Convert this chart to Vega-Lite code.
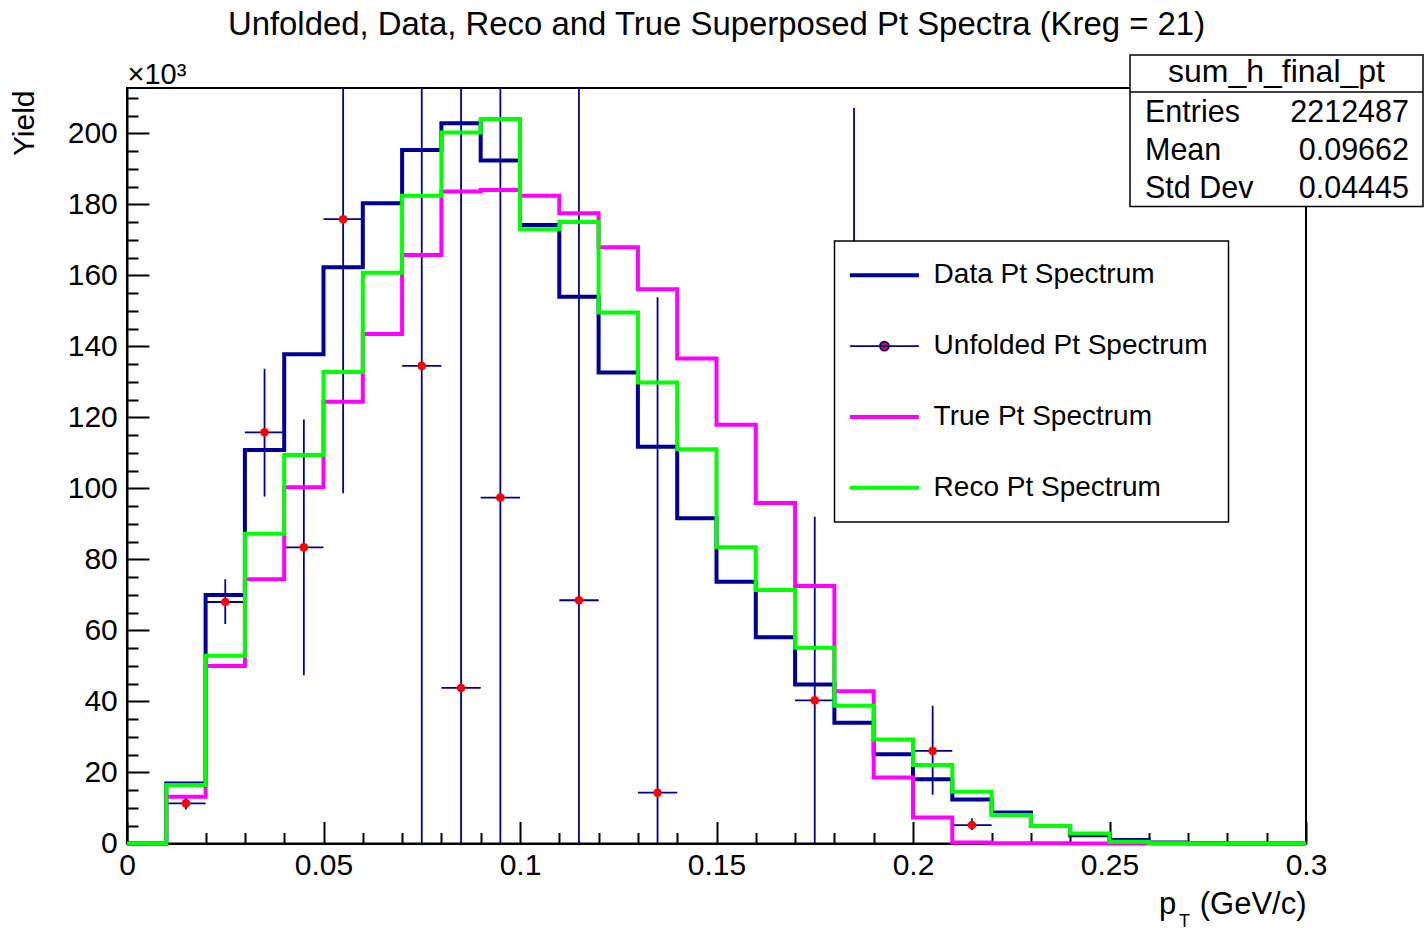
{
  "$schema": "https://vega.github.io/schema/vega-lite/v6.json",
  "width": 1179,
  "height": 755.5,
  "autosize": {"type": "none"},
  "padding": {"left": 127, "top": 88, "right": 118, "bottom": 85.5},
  "background": "white",
  "title": {
    "text": "Unfolded, Data, Reco and True Superposed Pt Spectra (Kreg = 21)",
    "font": "Liberation Sans",
    "fontSize": 32.9,
    "fontWeight": "normal",
    "color": "black",
    "anchor": "middle",
    "frame": "group",
    "baseline": "alphabetic",
    "offset": -14
  },
  "config": {
    "font": "Liberation Sans",
    "view": {"stroke": "black", "strokeWidth": 2},
    "legend": {"strokeWidth": 1.5},
    "axis": {
      "grid": false,
      "domainColor": "black",
      "domainWidth": 2,
      "tickColor": "black",
      "tickWidth": 2,
      "labelColor": "black",
      "titleColor": "black",
      "labelFont": "Liberation Sans",
      "titleFont": "Liberation Sans",
      "titleFontWeight": "normal",
      "labelFontSize": 30,
      "titleFontSize": 30
    }
  },
  "datasets": {
    "hist": [
      {"pt": 0.00, "data": 0, "truth": 0, "reco": 0},
      {"pt": 0.01, "data": 16.9, "truth": 13.2, "reco": 16.5},
      {"pt": 0.02, "data": 70.0, "truth": 50.0, "reco": 52.9},
      {"pt": 0.03, "data": 110.8, "truth": 74.4, "reco": 87.2},
      {"pt": 0.04, "data": 137.8, "truth": 100.3, "reco": 109.4},
      {"pt": 0.05, "data": 162.3, "truth": 124.4, "reco": 132.8},
      {"pt": 0.06, "data": 180.3, "truth": 143.5, "reco": 160.7},
      {"pt": 0.07, "data": 195.3, "truth": 165.7, "reco": 182.4},
      {"pt": 0.08, "data": 202.8, "truth": 183.6, "reco": 200.2},
      {"pt": 0.09, "data": 192.3, "truth": 184.0, "reco": 204.0},
      {"pt": 0.10, "data": 174.2, "truth": 182.4, "reco": 173.0},
      {"pt": 0.11, "data": 154.0, "truth": 177.5, "reco": 175.0},
      {"pt": 0.12, "data": 132.6, "truth": 167.9, "reco": 149.5},
      {"pt": 0.13, "data": 111.7, "truth": 156.1, "reco": 129.8},
      {"pt": 0.14, "data": 91.6, "truth": 136.6, "reco": 111.0},
      {"pt": 0.15, "data": 73.7, "truth": 117.9, "reco": 83.4},
      {"pt": 0.16, "data": 58.1, "truth": 95.9, "reco": 71.4},
      {"pt": 0.17, "data": 44.8, "truth": 72.5, "reco": 55.1},
      {"pt": 0.18, "data": 34.0, "truth": 42.9, "reco": 38.8},
      {"pt": 0.19, "data": 25.1, "truth": 18.6, "reco": 29.3},
      {"pt": 0.20, "data": 18.1, "truth": 7.3, "reco": 22.1},
      {"pt": 0.21, "data": 12.4, "truth": 0.3, "reco": 14.6},
      {"pt": 0.22, "data": 8.7, "truth": 0.1, "reco": 8.0},
      {"pt": 0.23, "data": 4.9, "truth": 0.05, "reco": 4.9},
      {"pt": 0.24, "data": 2.3, "truth": 0, "reco": 2.8},
      {"pt": 0.25, "data": 1.0, "truth": 0, "reco": 0.5},
      {"pt": 0.26, "data": 0.3, "truth": 0, "reco": 0.1},
      {"pt": 0.27, "data": 0.1, "truth": 0, "reco": 0},
      {"pt": 0.28, "data": 0, "truth": 0, "reco": 0},
      {"pt": 0.29, "data": 0, "truth": 0, "reco": 0},
      {"pt": 0.30, "data": 0, "truth": 0, "reco": 0}
    ],
    "unfolded": [
      {"pt": 0.015, "xlo": 0.01, "xhi": 0.02, "val": 11.3, "lo": 9.6, "hi": 13.0},
      {"pt": 0.025, "xlo": 0.02, "xhi": 0.03, "val": 68.0, "lo": 61.8, "hi": 74.4},
      {"pt": 0.035, "xlo": 0.03, "xhi": 0.04, "val": 115.8, "lo": 97.7, "hi": 133.7},
      {"pt": 0.045, "xlo": 0.04, "xhi": 0.05, "val": 83.4, "lo": 47.4, "hi": 119.4},
      {"pt": 0.055, "xlo": 0.05, "xhi": 0.06, "val": 175.8, "lo": 98.6, "hi": 253.0},
      {"pt": 0.075, "xlo": 0.07, "xhi": 0.08, "val": 134.5, "lo": -20.5, "hi": 289.5},
      {"pt": 0.085, "xlo": 0.08, "xhi": 0.09, "val": 43.8, "lo": -141.2, "hi": 228.8},
      {"pt": 0.095, "xlo": 0.09, "xhi": 0.10, "val": 97.4, "lo": -39.6, "hi": 234.4},
      {"pt": 0.115, "xlo": 0.11, "xhi": 0.12, "val": 68.5, "lo": -84.5, "hi": 221.5},
      {"pt": 0.135, "xlo": 0.13, "xhi": 0.14, "val": 14.3, "lo": -125.2, "hi": 153.8},
      {"pt": 0.175, "xlo": 0.17, "xhi": 0.18, "val": 40.3, "lo": -11.4, "hi": 92.0},
      {"pt": 0.185, "xlo": 0.18, "xhi": 0.19, "val": 160.0, "lo": 112.9, "hi": 207.1},
      {"pt": 0.205, "xlo": 0.20, "xhi": 0.21, "val": 26.1, "lo": 13.7, "hi": 38.8},
      {"pt": 0.215, "xlo": 0.21, "xhi": 0.22, "val": 5.2, "lo": 3.8, "hi": 7.1}
    ],
    "stats": [
      {"hist": "sum_h_final_pt", "names": "Entries\nMean\nStd Dev", "values": "2212487\n0.09662\n0.04445"}
    ]
  },
  "resolve": {"axis": {"x": "independent", "y": "independent"}},
  "layer": [
    {
      "data": {"name": "hist"},
      "mark": {"type": "line", "interpolate": "step-after", "strokeWidth": 4, "strokeJoin": "miter"},
      "encoding": {
        "x": {
          "field": "pt",
          "type": "quantitative",
          "scale": {"domain": [0, 0.3], "nice": false, "zero": false},
          "axis": {
            "orient": "bottom",
            "values": [0, 0.01, 0.02, 0.03, 0.04, 0.05, 0.06, 0.07, 0.08, 0.09, 0.1, 0.11, 0.12, 0.13, 0.14, 0.15, 0.16, 0.17, 0.18, 0.19, 0.2, 0.21, 0.22, 0.23, 0.24, 0.25, 0.26, 0.27, 0.28, 0.29, 0.3],
            "format": "~g",
            "labelExpr": "round(datum.value * 100) % 5 === 0 ? datum.label : ''",
            "tickSize": {"expr": "round(datum.value * 100) % 5 === 0 ? -22 : -11"},
            "labelPadding": 28.5,
            "labelFlush": false,
            "labelOverlap": false,
            "title": "p\u00a0\u00a0\u2009(GeV/c)",
            "titleX": 1179,
            "titleY": 70,
            "titleAlign": "right",
            "titleBaseline": "alphabetic",
            "titleFontSize": 31
          }
        },
        "y": {
          "field": "data",
          "type": "quantitative",
          "scale": {"domain": [0, 212.75], "nice": false, "zero": false},
          "axis": {
            "orient": "left",
            "values": [0, 5, 10, 15, 20, 25, 30, 35, 40, 45, 50, 55, 60, 65, 70, 75, 80, 85, 90, 95, 100, 105, 110, 115, 120, 125, 130, 135, 140, 145, 150, 155, 160, 165, 170, 175, 180, 185, 190, 195, 200, 205, 210],
            "labelExpr": "datum.value % 20 === 0 ? datum.label : ''",
            "tickSize": {"expr": "datum.value % 20 === 0 ? -22 : -11"},
            "labelPadding": 31.7,
            "labelFlush": false,
            "labelOverlap": false,
            "title": "Yield",
            "titleAngle": 270,
            "titleX": -93.7,
            "titleY": 2,
            "titleAlign": "right",
            "titleBaseline": "alphabetic",
            "titleFontSize": 30
          }
        },
        "color": {
          "datum": "Data Pt Spectrum",
          "scale": {
            "domain": ["Data Pt Spectrum", "Unfolded Pt Spectrum", "True Pt Spectrum", "Reco Pt Spectrum"],
            "range": ["#000099", "#000099", "#ff00ff", "#00ff00"]
          },
          "legend": {
            "title": null,
            "orient": "none",
            "legendX": 707.5,
            "legendY": 153,
            "padding": 20.3,
            "fillColor": "white",
            "strokeColor": "black",
            "symbolType": "stroke",
            "symbolSize": 4761,
            "symbolStrokeWidth": 4,
            "symbolOffset": 15.6,
            "rowPadding": 42.8,
            "labelOffset": 35.2,
            "labelFont": "Liberation Sans",
            "labelFontSize": 28,
            "labelColor": "black",
            "labelLimit": 0,
            "labelBaseline": "middle",
            "encode": {
              "symbols": {
                "update": {
                  "shape": {"signal": "datum.value === 'Unfolded Pt Spectrum' ? 'M-1,0L1,0M0.13,0A0.13,0.13,0,1,1,-0.13,0A0.13,0.13,0,1,1,0.13,0Z' : 'stroke'"},
                  "fill": {"signal": "datum.value === 'Unfolded Pt Spectrum' ? '#ff0000' : 'transparent'"},
                  "strokeWidth": {"signal": "datum.value === 'Unfolded Pt Spectrum' ? 1.8 : 4"}
                }
              }
            }
          }
        }
      }
    },
    {
      "data": {"name": "unfolded"},
      "mark": {"type": "rule", "strokeWidth": 1.8, "clip": true},
      "encoding": {
        "x": {"field": "pt", "type": "quantitative", "axis": null},
        "y": {"field": "lo", "type": "quantitative", "axis": null},
        "y2": {"field": "hi"},
        "color": {"datum": "Unfolded Pt Spectrum"}
      }
    },
    {
      "data": {"name": "unfolded"},
      "mark": {"type": "rule", "strokeWidth": 1.8, "clip": true},
      "encoding": {
        "x": {"field": "xlo", "type": "quantitative", "axis": null},
        "x2": {"field": "xhi"},
        "y": {"field": "val", "type": "quantitative", "axis": null},
        "color": {"datum": "Unfolded Pt Spectrum"}
      }
    },
    {
      "data": {"name": "unfolded"},
      "mark": {"type": "circle", "size": 75, "opacity": 1, "color": "#ff0000", "clip": true},
      "encoding": {
        "x": {"field": "pt", "type": "quantitative", "axis": null},
        "y": {"field": "val", "type": "quantitative", "axis": null}
      }
    },
    {
      "data": {"name": "hist"},
      "mark": {"type": "line", "interpolate": "step-after", "strokeWidth": 4, "strokeJoin": "miter"},
      "encoding": {
        "x": {
          "field": "pt",
          "type": "quantitative",
          "axis": {
            "orient": "top",
            "domain": false,
            "ticks": false,
            "labels": false,
            "title": "T",
            "titleX": 1057,
            "titleY": 838,
            "titleAlign": "center",
            "titleBaseline": "alphabetic",
            "titleFontSize": 18
          }
        },
        "y": {"field": "truth", "type": "quantitative", "axis": null},
        "color": {"datum": "True Pt Spectrum"}
      }
    },
    {
      "data": {"name": "hist"},
      "mark": {"type": "line", "interpolate": "step-after", "strokeWidth": 4, "strokeJoin": "miter"},
      "encoding": {
        "x": {"field": "pt", "type": "quantitative", "axis": null},
        "y": {
          "field": "reco",
          "type": "quantitative",
          "axis": {
            "orient": "right",
            "domain": false,
            "ticks": false,
            "labels": false,
            "title": "×10³",
            "titleAngle": 0,
            "titleX": -1179,
            "titleY": -5,
            "titleAlign": "left",
            "titleBaseline": "alphabetic",
            "titleFontSize": 29
          }
        },
        "color": {"datum": "Reco Pt Spectrum"}
      }
    },
    {
      "data": {"name": "stats"},
      "mark": {"type": "rect", "fill": "white", "stroke": "black", "strokeWidth": 1.5},
      "encoding": {
        "x": {"datum": 0.25522, "type": "quantitative", "axis": null},
        "x2": {"datum": 0.32977},
        "y": {"datum": 222.04, "type": "quantitative", "axis": null},
        "y2": {"datum": 179.38}
      }
    },
    {
      "data": {"name": "stats"},
      "mark": {"type": "rule", "stroke": "black", "strokeWidth": 1.5},
      "encoding": {
        "x": {"datum": 0.25522, "type": "quantitative", "axis": null},
        "x2": {"datum": 0.32977},
        "y": {"datum": 211.62, "type": "quantitative", "axis": null}
      }
    },
    {
      "data": {"name": "stats"},
      "mark": {"type": "text", "align": "center", "baseline": "alphabetic", "fontSize": 32, "color": "black"},
      "encoding": {
        "x": {"datum": 0.29249, "type": "quantitative", "axis": null},
        "y": {"datum": 214.36, "type": "quantitative", "axis": null},
        "text": {"field": "hist", "type": "nominal"}
      }
    },
    {
      "data": {"name": "stats"},
      "mark": {"type": "text", "align": "left", "baseline": "alphabetic", "fontSize": 30.5, "lineHeight": 38, "lineBreak": "\n", "color": "black"},
      "encoding": {
        "x": {"datum": 0.25903, "type": "quantitative", "axis": null},
        "y": {"datum": 203.26, "type": "quantitative", "axis": null},
        "text": {"field": "names", "type": "nominal"}
      }
    },
    {
      "data": {"name": "stats"},
      "mark": {"type": "text", "align": "right", "baseline": "alphabetic", "fontSize": 30.5, "lineHeight": 38, "lineBreak": "\n", "color": "black"},
      "encoding": {
        "x": {"datum": 0.32621, "type": "quantitative", "axis": null},
        "y": {"datum": 203.26, "type": "quantitative", "axis": null},
        "text": {"field": "values", "type": "nominal"}
      }
    }
  ]
}
